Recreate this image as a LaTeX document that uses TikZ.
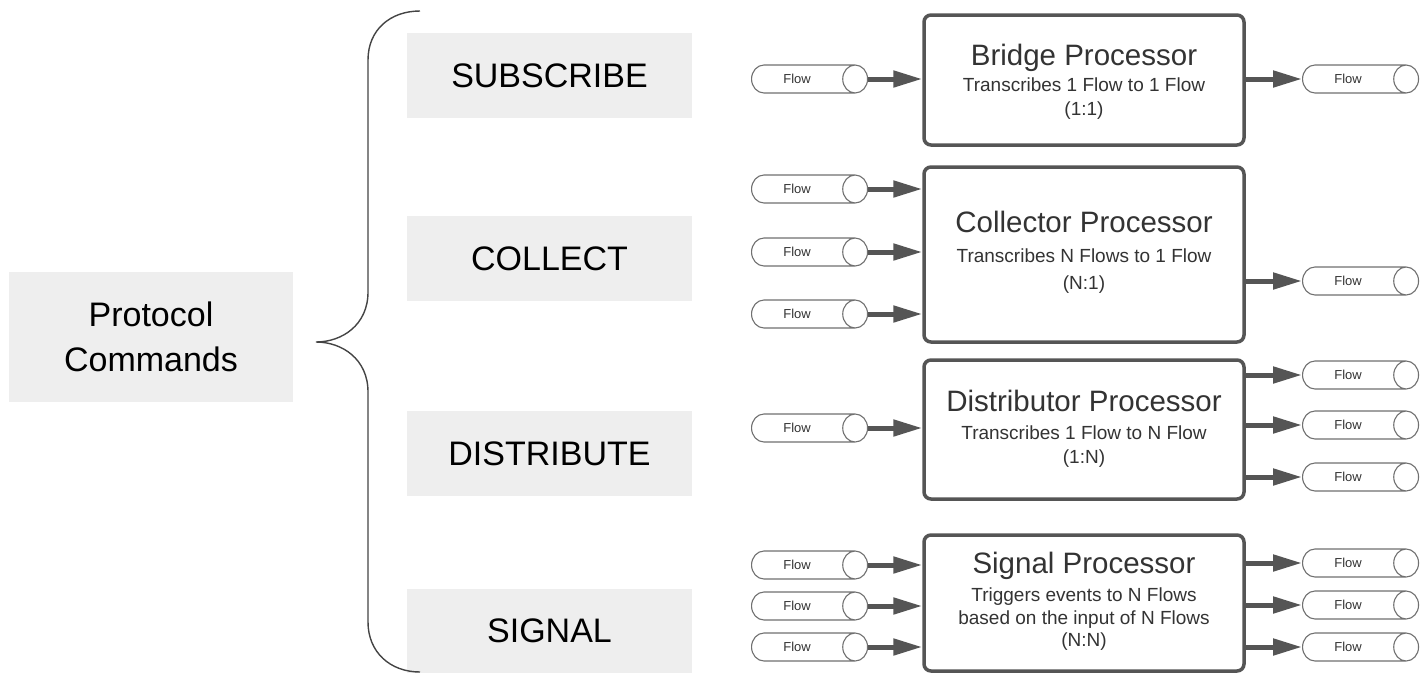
\documentclass[tikz,border=0pt]{standalone}
\usepackage{fontspec}
\setmainfont{Liberation Sans}
\usetikzlibrary{shapes.geometric,arrows.meta}
\definecolor{boxgray}{HTML}{EEEEEE}
\definecolor{edge}{HTML}{555555}
\definecolor{txt}{HTML}{333333}
\definecolor{flowline}{HTML}{707070}
\definecolor{bracecol}{HTML}{444444}
\newcommand{\flowtext}{Flow\kern12pt\null}
\begin{document}
\begin{tikzpicture}[x=1pt,y=-1pt,
 cmd/.style={fill=boxgray, minimum width=285pt, minimum height=85pt, inner sep=0pt, font=\fontsize{34}{45}\selectfont, text=black, align=center},
 proc/.style={draw=edge, line width=3.5pt, rounded corners=7pt, fill=white, inner sep=0pt, minimum width=320pt},
 ttl/.style={anchor=base, font=\fontsize{29.5}{34}\selectfont, text=txt, inner sep=0pt},
 sub/.style={anchor=base, font=\fontsize{19}{23}\selectfont, text=txt, inner sep=0pt},
 flow/.style={cylinder, anchor=west, draw=flowline, line width=1.1pt, minimum height=116pt, minimum width=28pt, aspect=2.6, inner sep=0pt, font=\fontsize{13}{15}\selectfont, text=txt, fill=white},
 conn/.style={draw=edge, line width=5pt, -{Triangle[length=29pt,width=16pt]}},
 brace/.style={draw=bracecol, line width=1.4pt}]
\useasboundingbox (0,0) rectangle (1422,673);

% left side
\node[cmd, minimum width=284pt, minimum height=130pt] (pc) at (151,337) {Protocol\\Commands};
\node[cmd] (sub) at (549.5,75.5) {SUBSCRIBE};
\node[cmd] (col) at (549.5,258.5) {COLLECT};
\node[cmd] (dis) at (549.5,453.5) {DISTRIBUTE};
\node[cmd, minimum height=84pt] (sig) at (549.5,631) {SIGNAL};

\draw[brace] (420,11) .. controls (390,11) and (368,30) .. (368,60) -- (368,292)
  .. controls (368,325) and (342,342) .. (316,342)
  .. controls (342,342) and (368,359) .. (368,392) -- (368,622)
  .. controls (368,652) and (390,672) .. (420,672);

% processors
\node[proc, minimum height=130pt] (bp) at (1084,80) {};
\node[ttl] (bpt) at (1084,65) {Bridge Processor};
\node[sub] (bps1) at (1084,91.5) {Transcribes 1 Flow to 1 Flow};
\node[sub] (bps2) at (1084,115) {(1:1)};

\node[proc, minimum height=175pt] (cp) at (1084,254.5) {};
\node[ttl] (cpt) at (1084,232.5) {Collector Processor};
\node[sub] (cps1) at (1084,262.5) {Transcribes N Flows to 1 Flow};
\node[sub] (cps2) at (1084,289) {(N:1)};

\node[proc, minimum height=139pt] (dp) at (1084,429.5) {};
\node[ttl] (dpt) at (1084,411.5) {Distributor Processor};
\node[sub] (dps1) at (1084,439) {Transcribes 1 Flow to N Flow};
\node[sub] (dps2) at (1084,463.5) {(1:N)};

\node[proc, minimum height=136pt] (sp) at (1084,603) {};
\node[ttl] (spt) at (1084,573) {Signal Processor};
\node[sub] (sps1) at (1084,601.5) {Triggers events to N Flows};
\node[sub] (sps2) at (1084,624) {based on the input of N Flows};
\node[sub] (sps3) at (1084,646) {(N:N)};

% flows in
\foreach \n/\y/\b in {bi/79/bp, ci1/189/cp, ci2/252/cp, ci3/314/cp, di/428/dp, si1/565/sp, si2/606/sp, si3/647/sp}{
  \node[flow] (\n) at (751,\y) {\flowtext};
  \draw[conn] (\n.east) -- (\n.east -| \b.west);
}
% flows out
\foreach \n/\y/\b in {bo/79/bp, co/281/cp, do1/375/dp, do2/425/dp, do3/477/dp, so1/563/sp, so2/605/sp, so3/647/sp}{
  \node[flow] (\n) at (1302,\y) {\flowtext};
  \draw[conn] (\n.west -| \b.east) -- (\n.west);
}
\end{tikzpicture}
\end{document}
